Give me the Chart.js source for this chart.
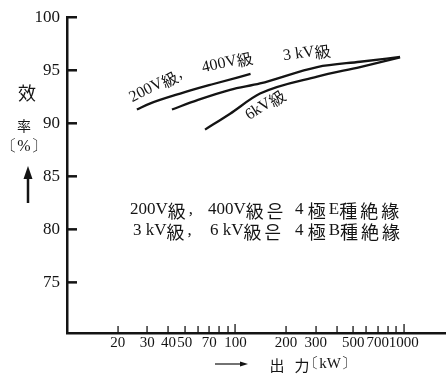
<!DOCTYPE html>
<html>
<head>
<meta charset="utf-8">
<script src="https://cdn.jsdelivr.net/npm/chart.js@4.4.1/dist/chart.umd.min.js"></script>
<style>
html,body{margin:0;padding:0;background:#fff;}
#wrap{width:446px;height:374px;}
</style>
</head>
<body>
<div id="wrap"><canvas id="chart-eff" width="446" height="374"></canvas></div>
<script>
// 出力 kW / 効率 %
var kw_200v = [26, 31, 47, 74, 123];
var eff_200v = [91.3, 91.85, 92.8, 93.7, 94.65];
var kw_3kv = [42, 60, 93, 140, 306, 550, 950];
var eff_3kv = [91.3, 92.2, 93.15, 93.75, 95.3, 95.8, 96.25];
var kw_6kv = [66, 93, 140, 306, 550, 950];
var eff_6kv = [89.4, 90.9, 92.8, 94.4, 95.3, 96.2];

var x_ticks = [20, 30, 40, 50, 60, 70, 80, 90, 100, 200, 300, 400, 500, 600, 700, 800, 900, 1000];
var x_labels = [20, 30, 40, 50, 70, 100, 200, 300, 500, 700, 1000];
var y_ticks = [75, 80, 85, 90, 95, 100];

var SERIF = '"Liberation Serif", "DejaVu Serif", serif';
var CJK = '"Noto Sans CJK KR", "Noto Sans CJK JP", sans-serif';
var INK = '#141414';

function pts(xs, ys) {
  return xs.map(function (v, i) { return {x: v, y: ys[i]}; });
}

function isCJK(ch) { return ch.charCodeAt(0) > 0x2e80; }

// 英数字はセリフ, 漢字ハングルはCJKで一文字ずつ描く
function mixedWidth(ctx, txt, lat, cjk, gap) {
  var w = 0;
  for (var i = 0; i < txt.length; i++) {
    var c = txt[i];
    if (isCJK(c)) { ctx.font = cjk + 'px ' + CJK; w += ctx.measureText(c).width + gap; }
    else { ctx.font = lat + 'px ' + SERIF; w += ctx.measureText(c).width; }
  }
  return w;
}
function drawMixed(ctx, txt, x, y, lat, cjk, gap) {
  ctx.textAlign = 'left';
  ctx.textBaseline = 'middle';
  for (var i = 0; i < txt.length; i++) {
    var c = txt[i];
    if (isCJK(c)) {
      ctx.font = cjk + 'px ' + CJK;
      ctx.fillText(c, x, y + 1);
      x += ctx.measureText(c).width + gap;
    } else {
      ctx.font = lat + 'px ' + SERIF;
      ctx.fillText(c, x, y);
      x += ctx.measureText(c).width;
    }
  }
}
function curveLabel(ctx, chart, txt, kw, eff, deg) {
  var px = chart.scales.x.getPixelForValue(kw);
  var py = chart.scales.y.getPixelForValue(eff);
  ctx.save();
  ctx.translate(px, py);
  ctx.rotate(deg * Math.PI / 180);
  var w = mixedWidth(ctx, txt, 16, 16, 1);
  drawMixed(ctx, txt, -w / 2, 0, 16, 16, 1);
  ctx.restore();
}

var notesPlugin = {
  id: 'notes',
  afterDraw: function (chart) {
    var ctx = chart.ctx, xs = chart.scales.x, ys = chart.scales.y;
    var a = chart.chartArea;
    ctx.save();
    ctx.fillStyle = INK;
    ctx.strokeStyle = INK;

    // 目盛り線は軸の内側に
    x_ticks.forEach(function (v) {
      var px = Math.round(xs.getPixelForValue(v));
      var len = (v === 100 || v === 1000) ? 9 : 7;
      ctx.fillRect(px - 0.6, a.bottom - len, 1.3, len);
    });
    y_ticks.forEach(function (v) {
      var py = ys.getPixelForValue(v);
      ctx.fillRect(a.left, py - 1.2, 10, 2.5);
    });

    // 曲線のラベル
    curveLabel(ctx, chart, '200V級,', 33.6, 93.55, -27);
    curveLabel(ctx, chart, '400V級', 90, 95.75, -13);
    curveLabel(ctx, chart, '3 kV級', 267, 96.65, -8);
    curveLabel(ctx, chart, '6kV級', 151, 91.75, -33);

    // 注記
    drawMixed(ctx, '200V級,', 130, 210, 17, 18, 3);
    drawMixed(ctx, '400V級은', 208, 210, 17, 18, 3);
    drawMixed(ctx, '4 極E種絶緣', 295, 210, 17, 18, 3);
    drawMixed(ctx, '3 kV級,', 133, 231, 17, 18, 3);
    drawMixed(ctx, '6 kV級은', 210, 231, 17, 18, 3);
    drawMixed(ctx, '4 極B種絶緣', 295, 231, 17, 18, 3);

    // 縦軸タイトル
    ctx.textAlign = 'center';
    ctx.textBaseline = 'middle';
    ctx.font = '18px ' + CJK;
    ctx.fillText('效', 27, 93);
    ctx.font = '14px ' + CJK;
    ctx.fillText('率', 24, 126);
    ctx.font = '16px ' + SERIF;
    ctx.fillText('〔%〕', 24, 147);
    ctx.lineWidth = 2.5;
    ctx.beginPath(); ctx.moveTo(28, 203); ctx.lineTo(28, 176); ctx.stroke();
    ctx.beginPath(); ctx.moveTo(28, 166); ctx.lineTo(23.5, 179); ctx.lineTo(32.5, 179); ctx.closePath(); ctx.fill();

    // 横軸タイトル
    ctx.lineWidth = 1.2;
    ctx.beginPath(); ctx.moveTo(215, 364); ctx.lineTo(244, 364); ctx.stroke();
    ctx.beginPath(); ctx.moveTo(248, 364); ctx.lineTo(240, 361.5); ctx.lineTo(240, 366.5); ctx.closePath(); ctx.fill();
    ctx.font = '15px ' + CJK;
    ctx.fillText('出', 277, 365);
    ctx.fillText('力', 302, 365);
    ctx.font = '15px ' + SERIF;
    ctx.fillText('〔kW〕', 330, 364);
    ctx.restore();
  }
};

var lineStyle = {
  showLine: true,
  borderColor: INK,
  borderWidth: 2.3,
  pointRadius: 0,
  cubicInterpolationMode: 'monotone',
  fill: false
};

var ctx = document.getElementById('chart-eff');
var chart = new Chart(ctx, {
  type: 'scatter',
  data: {
    datasets: [
      Object.assign({label: '200V級, 400V級', data: pts(kw_200v, eff_200v)}, lineStyle),
      Object.assign({label: '3 kV級', data: pts(kw_3kv, eff_3kv)}, lineStyle),
      Object.assign({label: '6kV級', data: pts(kw_6kv, eff_6kv)}, lineStyle)
    ]
  },
  options: {
    responsive: false,
    animation: false,
    devicePixelRatio: 1,
    layout: {padding: {top: 6, right: 0, bottom: 0, left: 0}},
    plugins: {legend: {display: false}, tooltip: {enabled: false}},
    scales: {
      x: {
        type: 'logarithmic',
        min: 10,
        max: 1780,
        afterBuildTicks: function (s) { s.ticks = x_ticks.map(function (v) { return {value: v}; }); },
        afterFit: function (s) { s.height = 41; },
        border: {display: true, color: INK, width: 2.5},
        grid: {display: false, drawTicks: false},
        ticks: {
          autoSkip: false,
          maxRotation: 0,
          padding: 1,
          color: INK,
          font: {family: SERIF, size: 15},
          callback: function (v) { return x_labels.indexOf(v) >= 0 ? String(v) : ''; }
        }
      },
      y: {
        min: 70.22,
        max: 100,
        afterBuildTicks: function (s) { s.ticks = y_ticks.map(function (v) { return {value: v}; }); },
        afterFit: function (s) { s.width = 67; },
        border: {display: true, color: INK, width: 2.5},
        grid: {display: false, drawTicks: false},
        ticks: {
          padding: 7,
          color: INK,
          font: {family: SERIF, size: 17},
          callback: function (v) { return String(v); }
        }
      }
    }
  },
  plugins: [notesPlugin]
});
</script>
</body>
</html>
